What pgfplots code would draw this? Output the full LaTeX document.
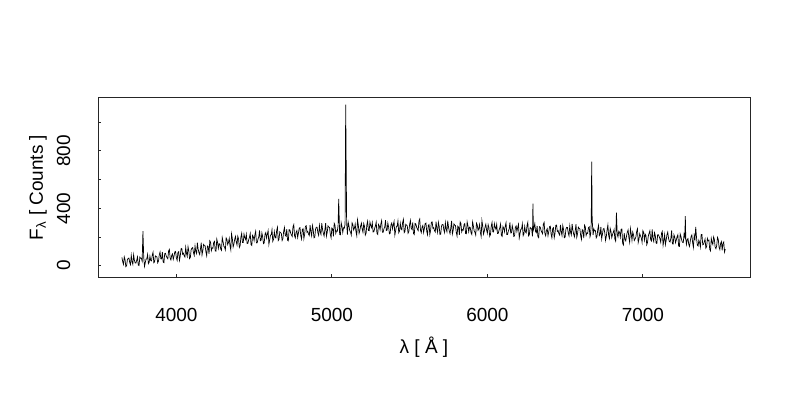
\documentclass[border=0pt]{standalone}
\usepackage{fontspec}
\setmainfont{Liberation Sans}
\usepackage{pgfplots}
\pgfplotsset{compat=1.18}

\begin{document}
\begin{tikzpicture}[font=\fontsize{13.5}{15}\selectfont]
\path[use as bounding box] (0,0) rectangle (20cm,10cm);
\begin{axis}[
    at={(2.45cm,3.075cm)}, anchor=south west,
    scale only axis, width=16.3cm, height=4.475cm,
    xmin=3496, xmax=7689, ymin=-79, ymax=1169,
    axis line style={black!85, line width=0.7pt},
    tick pos=left, tick align=inside,
    major tick length=2.4pt,
    tick style={black!85, line width=0.6pt},
    xtick={4000,5000,6000,7000},
    ytick={0,200,400,600,800,1000},
    yticklabels={0,,400,,800,},
    /pgf/number format/assume math mode=true,
    /pgf/number format/set thousands separator={},
    xticklabel style={anchor=north, inner sep=0pt},
    xticklabel shift=22pt,
    yticklabel style={rotate=90, anchor=south, inner sep=0pt},
    yticklabel shift=19.5pt,
    xlabel={λ [ Å ]},
    xlabel style={at={(axis description cs:0.5,-0.391)}, anchor=center},
    ylabel={F\textsubscript{λ} [ Counts ]},
    ylabel style={at={(axis description cs:-0.092,0.5)}, anchor=center},
]
\addplot[black, line width=0.5pt] coordinates {
(3650,58) (3655,26) (3660,9) (3665,61) (3670,41) (3675,-7) (3680,0) (3685,42) (3690,51) (3695,53)
(3700,21) (3705,7) (3710,72) (3715,28) (3720,9) (3725,76) (3730,39) (3735,19) (3740,18) (3745,38)
(3750,61) (3755,4) (3760,1) (3765,60) (3770,52) (3775,52) (3780,31) (3785,240) (3790,60) (3795,-5)
(3800,20) (3805,46) (3810,48) (3815,78) (3820,14) (3825,23) (3830,66) (3835,36) (3840,33) (3845,74)
(3850,93) (3855,20) (3860,27) (3865,68) (3870,64) (3875,60) (3880,20) (3885,31) (3890,75) (3895,95)
(3900,48) (3905,47) (3910,95) (3915,25) (3920,21) (3925,84) (3930,86) (3935,66) (3940,55) (3945,48)
(3950,102) (3955,113) (3960,52) (3965,40) (3970,72) (3975,82) (3980,44) (3985,68) (3990,96) (3995,99)
(4000,54) (4005,37) (4010,92) (4015,97) (4020,37) (4025,67) (4030,117) (4035,120) (4040,80) (4045,87)
(4050,70) (4055,60) (4060,128) (4065,86) (4070,64) (4075,132) (4080,104) (4085,49) (4090,58) (4095,111)
(4100,122) (4105,126) (4110,90) (4115,71) (4120,137) (4125,98) (4130,84) (4135,160) (4140,116) (4145,91)
(4150,78) (4155,117) (4160,160) (4165,75) (4170,104) (4175,148) (4180,139) (4185,138) (4190,96) (4195,69)
(4200,137) (4205,132) (4210,82) (4215,173) (4220,162) (4225,105) (4230,124) (4235,122) (4240,162) (4245,169)
(4250,102) (4255,101) (4260,185) (4265,161) (4270,121) (4275,153) (4280,151) (4285,116) (4290,107) (4295,196)
(4300,169) (4305,136) (4310,129) (4315,110) (4320,194) (4325,183) (4330,147) (4335,161) (4340,190) (4345,138)
(4350,111) (4355,222) (4360,188) (4365,130) (4370,151) (4375,183) (4380,204) (4385,165) (4390,144) (4395,205)
(4400,186) (4405,127) (4410,140) (4415,199) (4420,225) (4425,161) (4430,161) (4435,220) (4440,196) (4445,183)
(4450,218) (4455,154) (4460,156) (4465,180) (4470,198) (4475,224) (4480,147) (4485,141) (4490,211) (4495,201)
(4500,175) (4505,216) (4510,240) (4515,159) (4520,160) (4525,186) (4530,200) (4535,246) (4540,174) (4545,177)
(4550,228) (4555,201) (4560,154) (4565,159) (4570,219) (4575,230) (4580,192) (4585,220) (4590,244) (4595,149)
(4600,180) (4605,212) (4610,215) (4615,251) (4620,170) (4625,183) (4630,236) (4635,198) (4640,193) (4645,245)
(4650,268) (4655,175) (4660,184) (4665,235) (4670,230) (4675,225) (4680,175) (4685,188) (4690,239) (4695,266)
(4700,212) (4705,206) (4710,255) (4715,178) (4720,173) (4725,251) (4730,249) (4735,227) (4740,214) (4745,204)
(4750,272) (4755,286) (4760,209) (4765,194) (4770,234) (4775,245) (4780,197) (4785,227) (4790,262) (4795,265)
(4800,209) (4805,186) (4810,252) (4815,258) (4820,189) (4825,219) (4830,275) (4835,278) (4840,233) (4845,239)
(4850,219) (4855,210) (4860,282) (4865,235) (4870,208) (4875,279) (4880,251) (4885,194) (4890,198) (4895,254)
(4900,268) (4905,268) (4910,229) (4915,211) (4920,280) (4925,236) (4930,218) (4935,296) (4940,253) (4945,226)
(4950,207) (4955,250) (4960,297) (4965,206) (4970,232) (4975,277) (4980,270) (4985,266) (4990,219) (4995,195)
(5000,263) (5005,256) (5010,205) (5015,295) (5020,283) (5025,225) (5030,243) (5035,240) (5040,279) (5044,465)
(5050,217) (5055,215) (5060,299) (5065,274) (5070,232) (5075,264) (5080,261) (5085,290) (5089,1122) (5095,300)
(5100,216) (5105,304) (5110,277) (5115,243) (5120,234) (5125,214) (5130,298) (5135,286) (5140,249) (5145,262)
(5150,290) (5155,237) (5160,209) (5165,319) (5170,284) (5175,225) (5180,245) (5185,276) (5190,296) (5195,256)
(5200,233) (5205,293) (5210,273) (5215,213) (5220,226) (5225,285) (5230,310) (5235,245) (5240,244) (5245,303)
(5250,279) (5255,265) (5260,299) (5265,235) (5270,236) (5275,259) (5280,277) (5285,303) (5290,225) (5295,218)
(5300,287) (5305,277) (5310,250) (5315,291) (5320,314) (5325,233) (5330,233) (5335,258) (5340,271) (5345,317)
(5350,245) (5355,247) (5360,297) (5365,270) (5370,222) (5375,226) (5380,285) (5385,297) (5390,258) (5395,285)
(5400,308) (5405,213) (5410,243) (5415,274) (5420,276) (5425,312) (5430,230) (5435,242) (5440,294) (5445,256)
(5450,250) (5455,301) (5460,323) (5465,230) (5470,238) (5475,288) (5480,282) (5485,277) (5490,226) (5495,238)
(5500,288) (5505,315) (5510,260) (5515,253) (5520,301) (5525,223) (5530,217) (5535,294) (5540,291) (5545,269)
(5550,255) (5555,244) (5560,311) (5565,325) (5570,247) (5575,230) (5580,269) (5585,280) (5590,231) (5595,260)
(5600,294) (5605,297) (5610,240) (5615,216) (5620,281) (5625,287) (5630,217) (5635,247) (5640,303) (5645,305)
(5650,260) (5655,265) (5660,244) (5665,235) (5670,306) (5675,259) (5680,232) (5685,302) (5690,274) (5695,217)
(5700,220) (5705,275) (5710,288) (5715,288) (5720,249) (5725,230) (5730,299) (5735,255) (5740,236) (5745,314)
(5750,270) (5755,242) (5760,223) (5765,265) (5770,312) (5775,221) (5780,246) (5785,291) (5790,283) (5795,279)
(5800,232) (5805,207) (5810,275) (5815,267) (5820,215) (5825,305) (5830,293) (5835,235) (5840,252) (5845,248)
(5850,287) (5855,293) (5860,224) (5865,222) (5870,305) (5875,279) (5880,237) (5885,268) (5890,265) (5895,228)
(5900,217) (5905,305) (5910,277) (5915,243) (5920,234) (5925,213) (5930,296) (5935,284) (5940,246) (5945,259)
(5950,287) (5955,233) (5960,204) (5965,314) (5970,279) (5975,220) (5980,239) (5985,269) (5990,289) (5995,249)
(6000,226) (6005,286) (6010,266) (6015,205) (6020,217) (6025,276) (6030,301) (6035,236) (6040,235) (6045,293)
(6050,268) (6055,254) (6060,288) (6065,224) (6070,225) (6075,247) (6080,264) (6085,290) (6090,212) (6095,204)
(6100,273) (6105,263) (6110,236) (6115,276) (6120,299) (6125,217) (6130,217) (6135,242) (6140,255) (6145,301)
(6150,228) (6155,229) (6160,279) (6165,252) (6170,204) (6175,208) (6180,267) (6185,277) (6190,238) (6195,265)
(6200,288) (6205,193) (6210,223) (6215,254) (6220,256) (6225,291) (6230,209) (6235,221) (6240,273) (6245,235)
(6250,229) (6255,280) (6260,302) (6265,208) (6270,216) (6275,266) (6280,260) (6285,255) (6290,204) (6293,432)
(6296,250) (6300,266) (6305,293) (6310,238) (6315,230) (6320,278) (6325,201) (6330,195) (6335,272) (6340,269)
(6345,247) (6350,233) (6355,222) (6360,289) (6365,302) (6370,224) (6375,208) (6380,247) (6385,258) (6390,209)
(6395,238) (6400,272) (6405,275) (6410,218) (6415,194) (6420,259) (6425,265) (6430,195) (6435,225) (6440,281)
(6445,283) (6450,238) (6455,244) (6460,223) (6465,213) (6470,284) (6475,237) (6480,210) (6485,280) (6490,252)
(6495,195) (6500,198) (6505,254) (6510,267) (6515,266) (6520,227) (6525,208) (6530,277) (6535,233) (6540,214)
(6545,291) (6550,247) (6555,220) (6560,201) (6565,243) (6570,290) (6575,198) (6580,223) (6585,268) (6590,260)
(6595,256) (6600,209) (6605,183) (6610,251) (6615,244) (6620,192) (6625,282) (6630,270) (6635,211) (6640,228)
(6645,225) (6650,264) (6655,270) (6660,201) (6664,217) (6668,300) (6671,725) (6674,320) (6680,214) (6685,256)
(6690,242) (6695,244) (6700,194) (6705,204) (6710,253) (6715,280) (6720,209) (6725,217) (6730,271) (6735,187)
(6740,219) (6745,256) (6750,259) (6755,230) (6760,176) (6765,204) (6770,250) (6775,284) (6780,209) (6785,189)
(6790,259) (6795,238) (6800,195) (6805,217) (6810,233) (6815,252) (6820,184) (6825,171) (6830,370) (6835,220)
(6840,200) (6845,240) (6850,233) (6855,199) (6860,252) (6865,256) (6870,155) (6875,144) (6880,226) (6885,184)
(6890,173) (6895,207) (6900,234) (6905,249) (6910,196) (6915,163) (6920,258) (6925,222) (6930,177) (6935,234)
(6940,214) (6945,175) (6950,186) (6955,199) (6960,237) (6965,257) (6970,161) (6975,185) (6980,223) (6985,207)
(6990,194) (6995,163) (7000,244) (7005,232) (7010,178) (7015,219) (7020,210) (7025,146) (7030,163) (7035,206)
(7040,226) (7045,243) (7050,181) (7055,172) (7060,253) (7065,186) (7070,168) (7075,230) (7080,211) (7085,158)
(7090,154) (7095,215) (7100,215) (7105,203) (7110,186) (7115,163) (7120,226) (7125,239) (7130,142) (7135,177)
(7140,216) (7145,147) (7150,179) (7155,217) (7160,234) (7165,191) (7170,169) (7175,165) (7180,191) (7185,245)
(7190,152) (7195,151) (7200,215) (7205,200) (7210,160) (7215,179) (7220,201) (7225,215) (7230,136) (7235,134)
(7240,221) (7245,204) (7250,177) (7255,163) (7260,161) (7265,221) (7270,200) (7273,346) (7276,190) (7280,148)
(7285,180) (7290,189) (7295,149) (7300,134) (7305,172) (7310,202) (7315,214) (7320,161) (7325,127) (7330,210)
(7335,185) (7340,270) (7345,196) (7350,144) (7355,137) (7360,177) (7365,161) (7370,129) (7375,218) (7380,217)
(7385,146) (7390,149) (7395,167) (7400,185) (7405,122) (7410,132) (7415,190) (7420,174) (7425,177) (7430,113)
(7435,103) (7440,190) (7445,163) (7450,148) (7455,200) (7460,182) (7465,128) (7470,118) (7475,141) (7480,197)
(7485,184) (7490,129) (7495,112) (7500,155) (7505,168) (7510,107) (7515,156) (7520,165) (7525,95) (7530,115)
};
\end{axis}
\end{tikzpicture}
\end{document}
